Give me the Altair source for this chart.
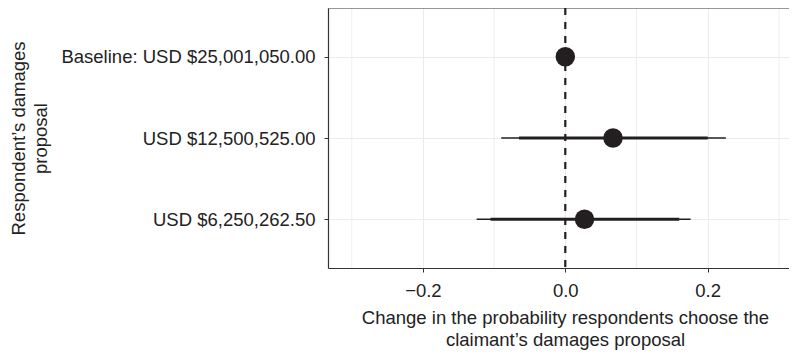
import altair as alt
import pandas as pd

# ---- data ----
categories = ["Baseline: USD $25,001,050.00", "USD $12,500,525.00", "USD $6,250,262.50"]
estimates = [0.0, 0.067, 0.027]
inner_low = [None, -0.065, -0.105]
inner_high = [None, 0.200, 0.160]
outer_low = [None, -0.090, -0.1245]
outer_high = [None, 0.2255, 0.176]
major_ticks = [-0.2, 0.0, 0.2]
minor_grid = [-0.3, -0.1, 0.1, 0.3]
ref_line = [0.0]

FONT = "Liberation Sans"
FS = 18.5
INK = "#231F20"
TXT = "#222222"
W, H = 461, 260
XDOM = [-0.3333, 0.3142]

pts = pd.DataFrame({"cat": categories, "est": estimates})
ci = pd.DataFrame({"cat": categories, "lo": inner_low, "hi": inner_high,
                   "olo": outer_low, "ohi": outer_high}).dropna()
grid_df = pd.DataFrame({"g": minor_grid})
ref_df = pd.DataFrame({"z": ref_line})

xscale = alt.Scale(domain=XDOM, nice=False, zero=False)
yscale = alt.Scale(type="point", domain=categories, padding=0.6)

x_axis = alt.Axis(
    values=major_ticks, format=".1f",
    labelExpr="replace(datum.label, '-', '\u2013')",
    title=["Change in the probability respondents choose the", "claimant\u2019s damages proposal"],
    grid=True, gridColor="#EBEBEB", gridWidth=1,
    domain=True, domainColor="#333333", domainWidth=1.2,
    ticks=True, tickColor="#333333", tickSize=4, tickWidth=1,
    labelFont=FONT, labelFontSize=FS, labelColor=TXT,
    labelBaseline="alphabetic", labelPadding=24,
    titleFont=FONT, titleFontSize=FS, titleFontWeight="normal", titleColor=TXT,
    titleX=237, titleY=55, titleBaseline="alphabetic", titleAlign="center",
    titleLineHeight=22,
)
y_axis = alt.Axis(
    title=["Respondent\u2019s damages", "proposal"],
    grid=True, gridColor="#EBEBEB", gridWidth=1,
    domain=True, domainColor="#333333", domainWidth=1.2,
    ticks=True, tickColor="#333333", tickSize=4, tickWidth=1,
    labelFont=FONT, labelFontSize=FS, labelColor=TXT, labelPadding=9,
    labelLimit=400,
    titleFont=FONT, titleFontSize=FS, titleFontWeight="normal", titleColor=TXT,
    titleX=-304, titleY=H / 2, titleAngle=-90, titleAlign="center",
    titleBaseline="alphabetic", titleLineHeight=22,
)

minor = alt.Chart(grid_df).mark_rule(color="#EBEBEB", strokeWidth=0.8).encode(
    x=alt.X("g:Q", scale=xscale, axis=x_axis)
)

base_axes = alt.Chart(pts).mark_point(opacity=0).encode(
    x=alt.X("est:Q", scale=xscale, axis=x_axis),
    y=alt.Y("cat:N", scale=yscale, axis=y_axis, sort=categories),
)

top_border = alt.Chart(ref_df).mark_rule(color="#333333", strokeWidth=1.2).encode(
    x=alt.value(0), x2=alt.value(W), y=alt.value(0)
)

dashed = alt.Chart(ref_df).mark_rule(color=INK, strokeWidth=2.2, strokeDash=[7, 7]).encode(
    x=alt.X("z:Q", scale=xscale, axis=x_axis)
)

thin = alt.Chart(ci).mark_rule(color=INK, strokeWidth=1.3).encode(
    x=alt.X("olo:Q", scale=xscale, axis=x_axis), x2="ohi:Q",
    y=alt.Y("cat:N", scale=yscale, axis=y_axis, sort=categories),
)
thick = alt.Chart(ci).mark_rule(color=INK, strokeWidth=2.8).encode(
    x=alt.X("lo:Q", scale=xscale, axis=x_axis), x2="hi:Q",
    y=alt.Y("cat:N", scale=yscale, axis=y_axis, sort=categories),
)
points = alt.Chart(pts).mark_circle(color=INK, size=380, opacity=1).encode(
    x=alt.X("est:Q", scale=xscale, axis=x_axis),
    y=alt.Y("cat:N", scale=yscale, axis=y_axis, sort=categories),
)

chart = alt.layer(minor, base_axes, top_border, dashed, thin, thick, points).properties(
    width=W, height=H,
    autosize=alt.AutoSizeParams(type="none"),
    padding={"left": 320, "top": 0, "right": 0, "bottom": 82},
    background="white",
).configure_view(stroke=None)

chart.save("out.html", embed_options={"renderer": "svg", "actions": False})
